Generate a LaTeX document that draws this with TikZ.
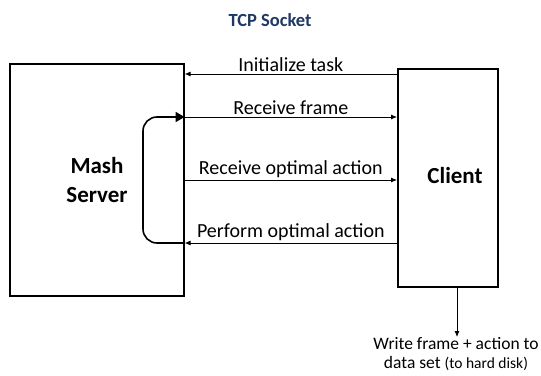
\documentclass[tikz,border=0pt]{standalone}
\usepackage{fontspec}
\setmainfont{Carlito}
\usetikzlibrary{arrows.meta}
\definecolor{titleblue}{HTML}{1F3864}
\begin{document}
\begin{tikzpicture}[x=1pt,y=-1pt,
  box/.style={draw,line width=1.6pt},
  msg/.style={line width=0.8pt,-{Latex[length=6pt,width=5pt]}},
  lbl/.style={font=\fontsize{20}{24}\selectfont,inner sep=0pt},
  big/.style={font=\fontsize{23}{29}\selectfont\bfseries,align=center}]
\useasboundingbox (0,0) rectangle (541,375);
\node[font=\fontsize{18.5}{22}\selectfont\bfseries,text=titleblue] (title) at (270,20) {TCP Socket};
\node[box,minimum width=174pt,minimum height=232pt,anchor=north west] (srv) at (9,63) {};
\node[box,minimum width=100pt,minimum height=218pt,anchor=north west] (cli) at (397,68) {};
\node[big] (srvt) at (97,180) {Mash\\Server};
\node[big] (clit) at (455,176) {Client};
\coordinate (s1) at (srv.east |- 0,74);
\coordinate (c1) at (cli.west |- 0,74);
\coordinate (s2) at (srv.east |- 0,117);
\coordinate (c2) at (cli.west |- 0,117);
\coordinate (s3) at (srv.east |- 0,180);
\coordinate (c3) at (cli.west |- 0,180);
\coordinate (s4) at (srv.east |- 0,243);
\coordinate (c4) at (cli.west |- 0,243);
\draw[msg] (c1) -- node[lbl,above=2pt] (l1) {Initialize task} (s1);
\draw[msg] (s2) -- node[lbl,above=2pt] (l2) {Receive frame} (c2);
\draw[msg] (s3) -- node[lbl,above=2pt] (l3) {Receive optimal action} (c3);
\draw[msg] (c4) -- node[lbl,above=2pt] (l4) {Perform optimal action} (s4);
\draw[line width=1.6pt,rounded corners=14pt,-{Triangle[length=9pt,width=10pt]}] (s4) -- (143,243) -- (143,117) -- (s2);
\coordinate (cb) at (457,286);
\node[inner sep=0pt,font=\fontsize{17.5}{19}\selectfont,align=center,anchor=north] (wr) at (456,337) {Write frame + action to\\data set {\fontsize{15.5}{19}\selectfont(to hard disk)}};
\draw[msg] (cb) -- (wr.north -| cb);
\end{tikzpicture}
\end{document}
